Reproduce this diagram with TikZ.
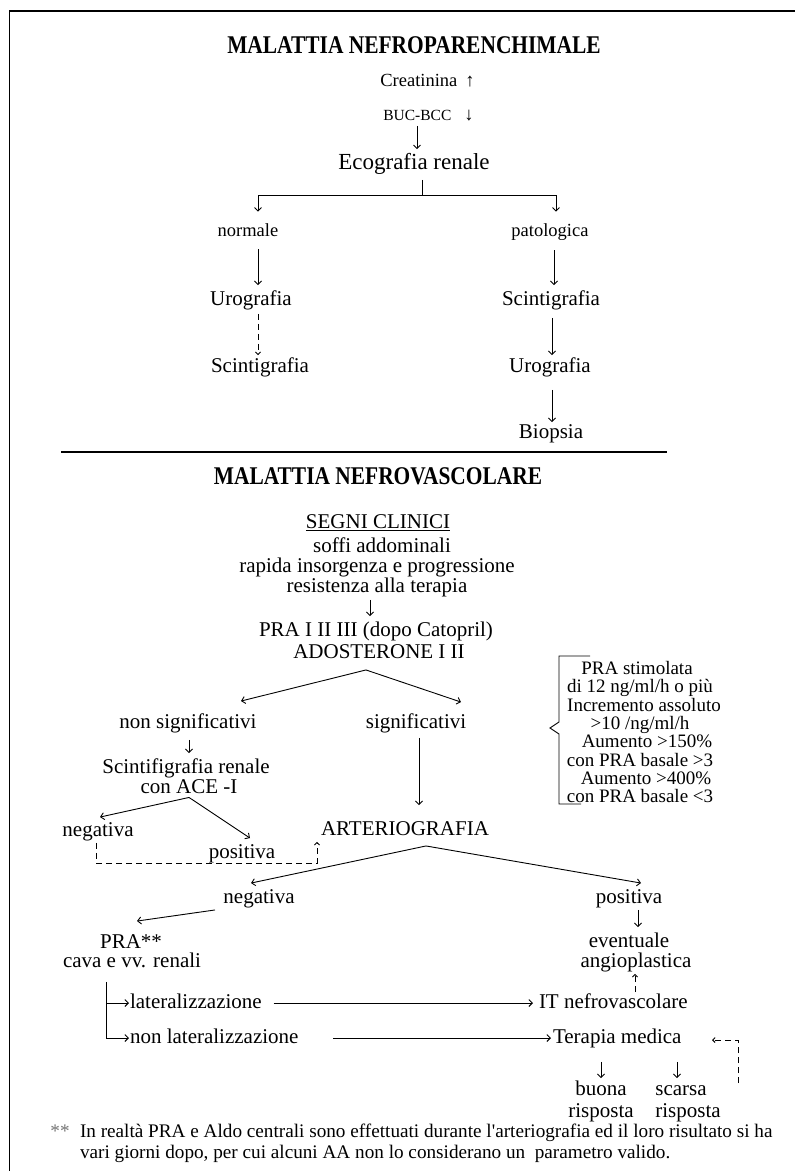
\documentclass[tikz,border=0pt]{standalone}
\usepackage{fontspec}
\setmainfont{Liberation Serif}
\newfontfamily\headfont{Liberation Serif}[FakeStretch=0.84]
\usetikzlibrary{arrows.meta}
\tikzset{
  lbl/.style={inner sep=0pt, outer sep=0pt},
  tbody/.style={lbl, font=\fontsize{21}{21}\selectfont, text height=14.7pt, text depth=4.2pt},
  tsmall/.style={lbl, font=\fontsize{18.5}{18.5}\selectfont, text height=13pt, text depth=3.7pt},
  ttiny/.style={lbl, font=\fontsize{15.5}{15.5}\selectfont, text height=10.8pt, text depth=3.1pt},
  tbig/.style={lbl, font=\fontsize{23}{23}\selectfont, text height=16.1pt, text depth=4.6pt},
  ttitle/.style={lbl, font=\headfont\bfseries\fontsize{25.5}{25.5}\selectfont, text height=17.8pt, text depth=5pt},
  tbox/.style={lbl, font=\fontsize{19}{19}\selectfont, text height=13.3pt, text depth=3.8pt},
  tfoot/.style={lbl, font=\fontsize{19.2}{19.2}\selectfont, text height=13.4pt, text depth=3.8pt},
  arr/.style={line width=0.9pt, -{Straight Barb[length=3.5pt,width=7pt]}},
  dasharr/.style={line width=0.9pt, dash pattern=on 6pt off 4pt, -{Straight Barb[length=2.5pt,width=5pt]}},
}
\begin{document}
\begin{tikzpicture}[x=1pt,y=-1pt]
\useasboundingbox (0,0) rectangle (795,1171);
% page frame
\draw[line width=1.8pt] (9.5,1171) -- (9.5,11) -- (795,11);

% ---------------- parenchymal disease ----------------
\node[ttitle] (t1) at (414,47) {MALATTIA NEFROPARENCHIMALE};
\node[tsmall] (creat) at (427.5,82) {Creatinina\hspace{8pt}↑};
\node[ttiny] (buc) at (428.5,117) {BUC-BCC\hspace{13pt}{\fontsize{18.5}{18.5}\selectfont ↓}};
\node[tbig] (eco) at (414,164) {Ecografia renale};
\draw[arr] ([xshift=-11.5pt,yshift=-2pt]buc.south) -- ([xshift=3pt,yshift=4.5pt]eco.north);

\node[tsmall] (norm) at (248,232) {normale};
\node[tsmall] (pato) at (550,232) {patologica};
\draw ([xshift=8pt,yshift=-5.5pt]eco.south) -- ++(0,16) coordinate (split);
\draw[arr] (split) -| ([xshift=10pt,yshift=12pt]norm.north);
\draw[arr] (split) -| ([xshift=6pt,yshift=12pt]pato.north);

\node[tbody] (uro1) at (251,300) {Urografia};
\node[tbody] (scin1) at (260,367) {Scintigrafia};
\node[tbody] (scin2) at (551,300) {Scintigrafia};
\node[tbody] (uro2) at (550,367) {Urografia};
\node[tbody] (biop) at (551,433) {Biopsia};
\draw[arr] ([xshift=10pt,yshift=-9pt]norm.south) -- ([xshift=7pt,yshift=5.5pt]uro1.north);
\draw[dasharr] ([xshift=7pt,yshift=-4.5pt]uro1.south) -- ([xshift=-2pt,yshift=2.5pt]scin1.north);
\draw[arr] ([xshift=4pt,yshift=-10pt]pato.south) -- ([xshift=3pt,yshift=5.5pt]scin2.north);
\draw[arr] ([xshift=1pt,yshift=-8.5pt]scin2.south) -- ([xshift=2pt,yshift=2.5pt]uro2.north);
\draw[arr] ([xshift=2pt,yshift=-13.5pt]uro2.south) -- ([xshift=1pt,yshift=1.5pt]biop.north);

% separator
\draw[line width=1.5pt] (61,452) -- (667,452);

% ---------------- renovascular disease ----------------
\node[ttitle] (t2) at (378,478) {MALATTIA NEFROVASCOLARE};
\node[tbody] (seg0) at (378,523) {\underline{SEGNI CLINICI}};
\node[tbody] (seg1) at (382,547) {soffi addominali};
\node[tbody] (seg2) at (377,567) {rapida insorgenza e progressione};
\node[tbody] (seg3) at (377,587) {resistenza alla terapia};
\node[tbody] (pra1) at (376,631) {PRA I II III (dopo Catopril)};
\node[tbody] (pra2) at (379,653) {ADOSTERONE I II};
\draw[arr] ([xshift=-7pt,yshift=-3.5pt]seg3.south) -- ([xshift=-6pt,yshift=5.5pt]pra1.north);

\coordinate (fork1) at ([xshift=-13pt,yshift=-7.5pt]pra2.south);
\node[tbody] (nonsig) at (188,723) {non significativi};
\node[tbody] (sig) at (416,723) {significativi};
\draw[arr] (fork1) -- ([xshift=53pt,yshift=12.5pt]nonsig.north);
\draw[arr] (fork1) -- ([xshift=45pt,yshift=11.5pt]sig.north);

% criteria bracket
\draw[line width=0.9pt] (590,656) -- (559,656) -- (559,722) -- (550,728) -- (559,734) -- (559,804) -- (581,804);
\node[tbox] (bx1) at (637,670) {PRA stimolata};
\node[tbox] (bx2) at (640,688) {di 12 ng/ml/h o più};
\node[tbox] (bx3) at (644,707) {Incremento assoluto};
\node[tbox] (bx4) at (640,725) {>10 /ng/ml/h};
\node[tbox] (bx5) at (647,743) {Aumento >150\%};
\node[tbox] (bx6) at (640,762) {con PRA basale >3};
\node[tbox] (bx7) at (646,780) {Aumento >400\%};
\node[tbox] (bx8) at (640,798) {con PRA basale <3};

\node[tbody] (scf1) at (186,768) {Scintifigrafia renale};
\node[tbody] (scf2) at (189,788) {con ACE -I};
\draw[arr] ([xshift=1pt,yshift=-7.5pt]nonsig.south) -- ([xshift=3pt,yshift=5.5pt]scf1.north);
\coordinate (fork2) at (scf2.south);
\node[tbody] (neg1) at (98,831) {negativa};
\node[tbody] (pos1) at (242,853) {positiva};
\node[tbody] (art) at (405,830) {ARTERIOGRAFIA};
\draw[arr] (fork2) -- ([xshift=2pt,yshift=4.5pt]neg1.north);
\draw[arr] (fork2) -- ([xshift=8pt,yshift=5.5pt]pos1.north);
\draw[arr] ([xshift=3pt,yshift=-5.5pt]sig.south) -- ([xshift=14pt,yshift=15.5pt]art.north);
\draw[dasharr] ([xshift=-2pt,yshift=-2.5pt]neg1.south) -- ++(0,20) -| ([xshift=-88pt,yshift=-2.5pt]art.south);

\coordinate (fork3) at ([xshift=21pt,yshift=-6.5pt]art.south);
\node[tbody] (neg2) at (259,898) {negativa};
\node[tbody] (pos2) at (629,898) {positiva};
\draw[arr] (fork3) -- ([xshift=-8pt,yshift=5.5pt]neg2.north);
\draw[arr] (fork3) -- ([xshift=12pt,yshift=5.5pt]pos2.north);

\node[tbody] (prc1) at (131,943) {PRA**};
\node[tbody] (prc2) at (132,962) {cava e vv. renali};
\node[tbody] (ev1) at (629,942) {eventuale};
\node[tbody] (ev2) at (636,962) {angioplastica};
\draw[arr] ([xshift=-44pt,yshift=-2.5pt]neg2.south) -- ([xshift=6pt,yshift=12.5pt]prc1.north);
\draw[arr] ([xshift=9pt,yshift=-2.5pt]pos2.south) -- ([xshift=9pt,yshift=5.5pt]ev1.north);

\node[tbody,anchor=west] (lat1) at (130,1003) {lateralizzazione};
\node[tbody,anchor=west] (it) at (539,1003) {IT nefrovascolare};
\node[tbody,anchor=west] (lat2) at (130,1038) {non lateralizzazione};
\node[tbody,anchor=west] (ter) at (553,1038) {Terapia medica};
\coordinate (trunk) at ([xshift=-25.5pt,yshift=-10.5pt]prc2.south);
\draw[arr,shorten >=1pt] (trunk) |- (lat2.west);
\draw[arr,shorten >=1pt] (trunk |- lat1.west) -- (lat1.west);
\draw[arr,shorten <=12pt,shorten >=6pt] (lat1.east) -- (it.west);
\draw[arr,shorten <=35pt,shorten >=2pt] (lat2.east) -- (ter.west);
\draw[dasharr] ([xshift=96pt,yshift=1.5pt]it.north west) -- ([xshift=-1pt,yshift=-2.5pt]ev2.south);

\node[tbody] (buo1) at (601,1090) {buona};
\node[tbody] (buo2) at (601,1112) {risposta};
\node[tbody] (scr1) at (681,1090) {scarsa};
\node[tbody] (scr2) at (688,1112) {risposta};
\draw[arr] ([xshift=48pt,yshift=-14.5pt]ter.south west) -- ([yshift=2.5pt]buo1.north);
\draw[arr] ([xshift=124pt,yshift=-14.5pt]ter.south west) -- ([xshift=-4pt,yshift=2.5pt]scr1.north);
\draw[dasharr] ([xshift=185pt,yshift=-45pt]ter.west) |- ([xshift=159pt,yshift=-2pt]ter.west);

% footnote
\node[tfoot, text=black!55] (stars) at (60,1133) {**};
\node[tfoot,anchor=west] (fn1) at (80,1133) {In realtà PRA e Aldo centrali sono effettuati durante l\textquotesingle arteriografia ed il loro risultato si ha};
\node[tfoot,anchor=west] (fn2) at (80,1154) {vari giorni dopo, per cui alcuni AA non lo considerano un\ \ parametro valido.};
\end{tikzpicture}
\end{document}
